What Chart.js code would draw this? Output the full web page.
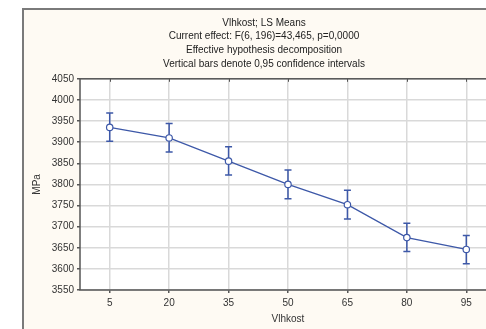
<!DOCTYPE html>
<html>
<head>
<meta charset="utf-8">
<script src="https://cdn.jsdelivr.net/npm/chart.js@4/dist/chart.umd.min.js"></script>
<style>
  html, body { margin: 0; padding: 0; background: #fff; overflow: hidden; width: 486px; height: 329px; }
  #panel { position: absolute; left: 22px; top: 8px; width: 600px; height: 400px;
           background: #fefaf3; border-top: 2px solid #7a7a7a; border-left: 2px solid #7a7a7a; }
  #wrap { position: absolute; left: 0; top: 0; width: 528px; height: 329px; }
</style>
</head>
<body>
<div id="panel"></div>
<div id="wrap"><canvas id="chart"></canvas></div>
<script>
// Data
const levels = ['5', '20', '35', '50', '65', '80', '95'];
const means = [3935, 3910, 3855, 3800, 3752, 3674, 3646];
const lower = [3902, 3877, 3822, 3766, 3718, 3641, 3612];
const upper = [3969, 3944, 3889, 3834, 3786, 3708, 3679];

const titleLines = [
    'Vlhkost; LS Means',
    'Current effect: F(6, 196)=43,465, p=0,0000',
    'Effective hypothesis decomposition',
    'Vertical bars denote 0,95 confidence intervals'
];

const lineColor = '#3d58a8';
const font = { family: 'Liberation Sans, Arial, sans-serif', size: 10 };

// White plot background, border, top ticks
const plotFrame = {
    id: 'plotFrame',
    beforeDraw(chart) {
        const { ctx, chartArea: a } = chart;
        ctx.save();
        ctx.fillStyle = '#ffffff';
        ctx.fillRect(a.left, a.top, a.right - a.left, a.bottom - a.top);
        ctx.restore();
    },
    afterDraw(chart) {
        const { ctx, chartArea: a, scales } = chart;
        ctx.save();
        ctx.strokeStyle = '#555';
        ctx.lineWidth = 1.5;
        ctx.strokeRect(a.left, a.top, a.right - a.left, a.bottom - a.top);
        ctx.lineWidth = 1;
        levels.forEach((l, i) => {
            const x = Math.round(scales.x.getPixelForValue(i)) + 0.5;
            ctx.beginPath();
            ctx.moveTo(x, a.top);
            ctx.lineTo(x, a.top + 3);
            ctx.stroke();
        });
        ctx.restore();
    }
};

// Confidence interval whiskers
const errorBars = {
    id: 'errorBars',
    afterDatasetsDraw(chart) {
        const { ctx, scales } = chart;
        ctx.save();
        ctx.strokeStyle = lineColor;
        ctx.lineWidth = 1.5;
        levels.forEach((l, i) => {
            const x = scales.x.getPixelForValue(i);
            const yl = scales.y.getPixelForValue(lower[i]);
            const yu = scales.y.getPixelForValue(upper[i]);
            ctx.beginPath();
            ctx.moveTo(x, yl); ctx.lineTo(x, yu);
            ctx.moveTo(x - 3.5, yl); ctx.lineTo(x + 3.5, yl);
            ctx.moveTo(x - 3.5, yu); ctx.lineTo(x + 3.5, yu);
            ctx.stroke();
        });
        // markers on top of the whiskers
        const meta = chart.getDatasetMeta(0);
        meta.data.forEach(pt => {
            ctx.beginPath();
            ctx.arc(pt.x, pt.y, 3.2, 0, Math.PI * 2);
            ctx.fillStyle = '#fff';
            ctx.fill();
            ctx.lineWidth = 1.2;
            ctx.stroke();
        });
        ctx.restore();
    }
};

const chart = new Chart(document.getElementById('chart'), {
    type: 'line',
    data: {
        labels: levels,
        datasets: [{
            data: means,
            borderColor: lineColor,
            borderWidth: 1.3,
            pointRadius: 0,
            tension: 0,
            fill: false
        }]
    },
    options: {
        responsive: true,
        maintainAspectRatio: false,
        animation: false,
        events: [],
        layout: { padding: 0 },
        plugins: {
            legend: { display: false },
            tooltip: { enabled: false },
            title: {
                display: true,
                text: titleLines,
                color: '#222',
                font: { ...font, weight: 'normal', lineHeight: 1.37 },
                padding: { top: 16, bottom: 8 }
            }
        },
        scales: {
            x: {
                offset: true,
                grid: { color: '#d9d9d9', lineWidth: 1.5, tickLength: 3, tickColor: '#555' },
                border: { display: false },
                ticks: { color: '#333', font, padding: 4, maxRotation: 0 },
                title: { display: true, text: 'Vlhkost', color: '#333', font, padding: { top: 0, bottom: 4 } },
                afterFit: s => { s.height = 39; }
            },
            y: {
                min: 3550,
                max: 4050,
                grid: { color: '#d9d9d9', lineWidth: 1.5, tickLength: 3, tickColor: '#555' },
                border: { display: false },
                ticks: { stepSize: 50, color: '#333', font, padding: 3, callback: v => String(v) },
                title: { display: true, text: 'MPa', color: '#333', font, padding: { top: 31, bottom: 0 } },
                afterFit: s => { s.width = 80; }
            },
            // empty right-hand strip so the title centres like the original
            yRight: {
                position: 'right',
                display: true,
                grid: { display: false },
                border: { display: false },
                ticks: { display: false },
                afterFit: s => { s.width = 32; }
            }
        }
    },
    plugins: [plotFrame, errorBars]
});
</script>
</body>
</html>
